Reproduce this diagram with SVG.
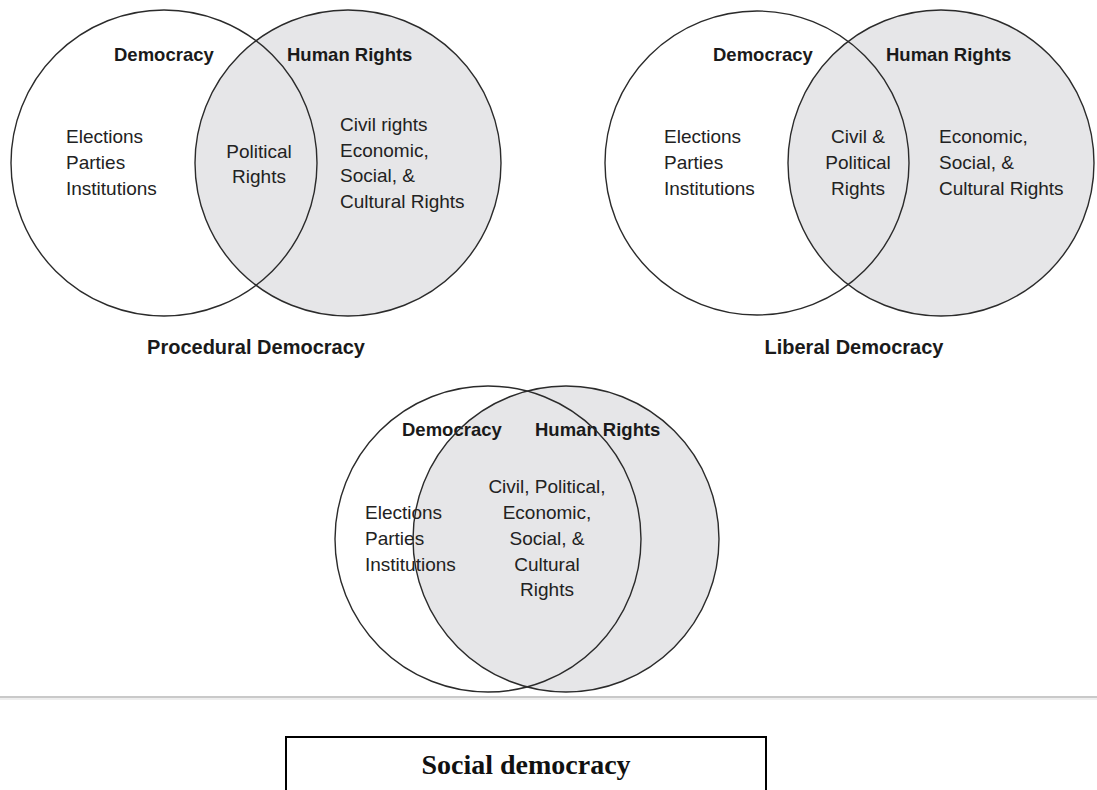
<svg xmlns="http://www.w3.org/2000/svg" width="1097" height="790" viewBox="0 0 1097 790">
<style>
.fill{fill:#e6e6e8;stroke:none}
.ring{fill:none;stroke:#2b2b2b;stroke-width:1.4}
.t{font-family:"Liberation Sans",Arial,sans-serif;font-size:19px;fill:#222}
.b{font-family:"Liberation Sans",Arial,sans-serif;font-size:18.5px;font-weight:bold;fill:#1a1a1a}
.title{font-family:"Liberation Sans",Arial,sans-serif;font-size:20px;font-weight:bold;fill:#1a1a1a}
.m{text-anchor:middle}
.serif{font-family:"Liberation Serif","Times New Roman",serif;font-size:28px;font-weight:bold;fill:#111;text-anchor:middle}
</style>
<rect x="0" y="0" width="1097" height="790" fill="#ffffff"/>

<g id="procedural">
<circle class="fill" cx="348" cy="163" r="153"/>
<text class="b" x="114" y="61">Democracy</text>
<text class="b" x="287" y="61">Human Rights</text>
<text class="t" x="66" y="143">Elections</text>
<text class="t" x="66" y="169">Parties</text>
<text class="t" x="66" y="195">Institutions</text>
<text class="t m" x="259" y="158">Political</text>
<text class="t m" x="259" y="183">Rights</text>
<text class="t" x="340" y="131">Civil rights</text>
<text class="t" x="340" y="157">Economic,</text>
<text class="t" x="340" y="182">Social, &amp;</text>
<text class="t" x="340" y="208">Cultural Rights</text>
<circle class="ring" cx="164" cy="163" r="153"/>
<circle class="ring" cx="348" cy="163" r="153"/>
<text class="title m" x="256" y="354">Procedural Democracy</text>
</g>

<g id="liberal">
<circle class="fill" cx="941" cy="163" r="153"/>
<text class="b" x="713" y="61">Democracy</text>
<text class="b" x="886" y="61">Human Rights</text>
<text class="t" x="664" y="143">Elections</text>
<text class="t" x="664" y="169">Parties</text>
<text class="t" x="664" y="195">Institutions</text>
<text class="t m" x="858" y="143">Civil &amp;</text>
<text class="t m" x="858" y="169">Political</text>
<text class="t m" x="858" y="195">Rights</text>
<text class="t" x="939" y="143">Economic,</text>
<text class="t" x="939" y="169">Social, &amp;</text>
<text class="t" x="939" y="195">Cultural Rights</text>
<circle class="ring" cx="757" cy="163" r="152"/>
<circle class="ring" cx="941" cy="163" r="153"/>
<text class="title m" x="854" y="354">Liberal Democracy</text>
</g>

<g id="social">
<circle class="fill" cx="566" cy="539" r="153"/>
<text class="b" x="402" y="436">Democracy</text>
<text class="b" x="535" y="436">Human Rights</text>
<text class="t" x="365" y="519">Elections</text>
<text class="t" x="365" y="545">Parties</text>
<text class="t" x="365" y="571">Institutions</text>
<text class="t m" x="547" y="493">Civil, Political,</text>
<text class="t m" x="547" y="519">Economic,</text>
<text class="t m" x="547" y="545">Social, &amp;</text>
<text class="t m" x="547" y="571">Cultural</text>
<text class="t m" x="547" y="596">Rights</text>
<circle class="ring" cx="488" cy="539" r="153"/>
<circle class="ring" cx="566" cy="539" r="153"/>
</g>

<g id="separator">
<line x1="0" y1="697" x2="1097" y2="697" stroke="#c9c9c9" stroke-width="2"/>
<line x1="0" y1="699" x2="1097" y2="699" stroke="#e8e8e8" stroke-width="1.5"/>
</g>

<g id="social-democracy-box">
<rect x="286" y="737" width="480" height="80" fill="#ffffff" stroke="#000" stroke-width="2"/>
<text class="serif" x="526" y="774">Social democracy</text>
</g>
</svg>
